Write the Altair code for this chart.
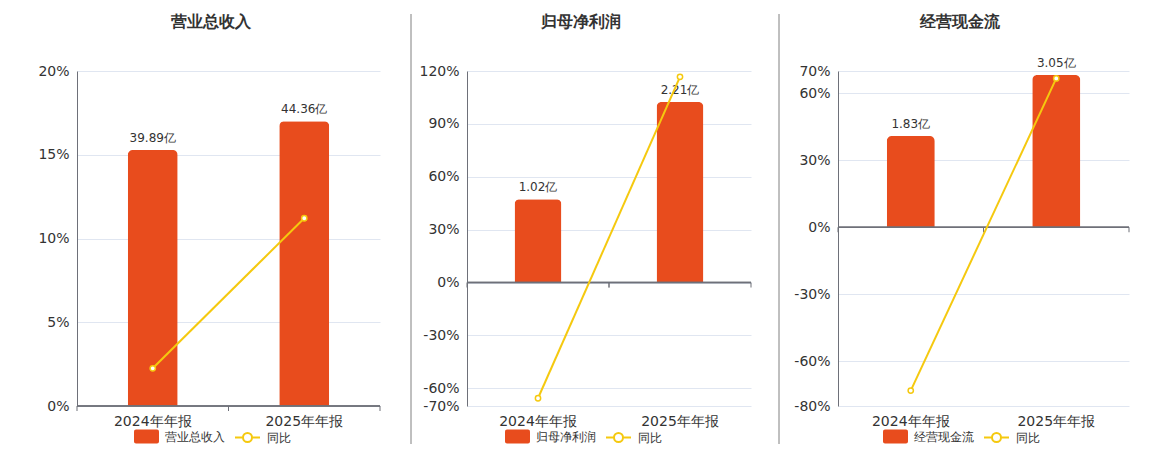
import altair as alt
import pandas as pd

categories = ["2024年年报", "2025年年报"]
titles = ["营业总收入", "归母净利润", "经营现金流"]
bar_values = [[39.89, 44.36], [1.02, 2.21], [1.83, 3.05]]
yoy_values = [[2.25, 11.21], [-65.6, 116.67], [-73.1, 66.67]]
pct_domains = [[0, 20], [-70, 120], [-80, 70]]
pct_ticks = [[0, 5, 10, 15, 20], [-70, -60, -30, 0, 30, 60, 90, 120], [-80, -60, -30, 0, 30, 60, 70]]
bar_domains = [[0, 52.19], [-1.511, 2.590], [-3.578, 3.131]]
yoy_name = "同比"

ORANGE = "#E84C1D"
YELLOW = "#F5C90F"
TEXT = "#333333"
AXIS = "#6E7079"
FONT = "DejaVu Sans"

RECT_PATH = ("M-0.84,-0.56 L0.84,-0.56 A0.16,0.16 0 0 1 1,-0.4 L1,0.4 "
             "A0.16,0.16 0 0 1 0.84,0.56 L-0.84,0.56 A0.16,0.16 0 0 1 -1,0.4 "
             "L-1,-0.4 A0.16,0.16 0 0 1 -0.84,-0.56 Z")
LINE_PATH = ("M-1,0 L-0.36,0 M0.36,0 L1,0 M-0.36,0 A0.36,0.36 0 1 1 0.36,0 "
             "A0.36,0.36 0 1 1 -0.36,0 Z")

H = 335


def panel(i, width, title_dx, leg1_x, leg2_x, sep_x, sep_opacity):
    df = pd.DataFrame({
        "cat": categories,
        "value": bar_values[i],
        "yoy": yoy_values[i],
        "series": titles[i],
        "yoyname": yoy_name,
        "label": [f"{v:.2f}亿" for v in bar_values[i]],
    })
    base = alt.Chart(df)
    xscale = alt.Scale(paddingInner=0, paddingOuter=0)
    xaxis = alt.Axis(title=None, labelAngle=0, domain=False, ticks=False,
                     labelPadding=8, labelFontSize=14, labelColor=TEXT,
                     labelFont=FONT)
    x = alt.X("cat:N", sort=categories, scale=xscale, axis=xaxis)
    bscale = alt.Scale(domain=bar_domains[i], nice=False, zero=False)
    pscale = alt.Scale(domain=pct_domains[i], nice=False, zero=False)

    bars = base.mark_bar(width=alt.RelativeBandSize(0.33),
                         cornerRadiusTopLeft=5, cornerRadiusTopRight=5).encode(
        x=x,
        y=alt.Y("value:Q", scale=bscale, axis=None),
        fill=alt.Fill("series:N", scale=alt.Scale(range=[ORANGE]),
                      legend=alt.Legend(orient="none", legendX=leg1_x, legendY=353,
                                        title=None, symbolType=RECT_PATH, symbolSize=625,
                                        symbolStrokeWidth=0, labelFontSize=12,
                                        labelColor=TEXT, labelFont=FONT, labelOffset=6)),
    )
    labels = base.mark_text(baseline="bottom", dy=-5, fontSize=12, color=TEXT,
                            font=FONT).encode(
        x=x,
        y=alt.Y("value:Q", scale=bscale, axis=None),
        text="label:N",
    )
    zero = base.mark_rule(color=AXIS, strokeWidth=1.5).encode(
        y=alt.YDatum(0, scale=pscale, axis=None),
    )
    ticks_a = base.mark_tick(orient="vertical", size=5, thickness=1, yOffset=2.5,
                             color=AXIS, opacity=1).encode(
        x=alt.X("cat:N", sort=categories, scale=xscale, axis=xaxis, bandPosition=0),
        y=alt.YDatum(0, scale=pscale, axis=None),
    )
    ticks_b = base.mark_tick(orient="vertical", size=5, thickness=1, yOffset=2.5,
                             color=AXIS, opacity=1).encode(
        x=alt.X("cat:N", sort=categories, scale=xscale, axis=xaxis, bandPosition=1),
        y=alt.YDatum(0, scale=pscale, axis=None),
    )
    line = base.mark_line(strokeWidth=2).encode(
        x=x,
        y=alt.Y("yoy:Q", scale=pscale,
                axis=alt.Axis(orient="left", title=None, values=pct_ticks[i],
                              labelExpr="datum.value + '%'", grid=True,
                              gridColor="#E0E6F1", domainColor=AXIS,
                              ticks=False, labelFontSize=14, labelColor=TEXT,
                              labelFont=FONT, labelPadding=8)),
        stroke=alt.Stroke("yoyname:N", scale=alt.Scale(range=[YELLOW]),
                          legend=alt.Legend(orient="none", legendX=leg2_x, legendY=353,
                                            title=None, symbolType=LINE_PATH,
                                            symbolSize=625, symbolStrokeWidth=2,
                                            symbolFillColor="white", labelFontSize=12,
                                            labelColor=TEXT, labelFont=FONT,
                                            labelOffset=6)),
    )
    points = base.mark_point(filled=True, fill="white", stroke=YELLOW, strokeWidth=1.5,
                             size=28, opacity=1).encode(
        x=x,
        y=alt.Y("yoy:Q", scale=pscale, axis=None),
    )
    sep = base.mark_rule(color="#AAAAAA", strokeWidth=1, opacity=sep_opacity).encode(
        x=alt.value(sep_x), y=alt.value(-57), y2=alt.value(H + 38))
    return alt.layer(bars, labels, zero, ticks_a, ticks_b, line, points, sep).resolve_scale(
        y="independent").properties(
        width=width, height=H,
        title=alt.TitleParams(titles[i], dx=title_dx, anchor="middle", frame="group",
                              fontSize=16, fontWeight="bold", color=TEXT, font=FONT,
                              offset=-16),
    )


p1 = panel(0, 303, -18, 57, 157, sep_x=0, sep_opacity=0)
p2 = panel(1, 284, -28, 38, 138, sep_x=-56, sep_opacity=1)
p3 = panel(2, 291, -24, 45, 145, sep_x=-59, sep_opacity=1)

chart = alt.hconcat(p1, p2, p3, spacing=87, bounds="flush").resolve_scale(
    fill="independent", stroke="independent"
).resolve_legend(
    fill="independent", stroke="independent"
).properties(
    padding={"left": 29, "top": 5, "right": 5, "bottom": 5}
).configure(font=FONT).configure_view(stroke=None)

chart.save("out.html", embed_options={"renderer": "svg", "actions": False})
